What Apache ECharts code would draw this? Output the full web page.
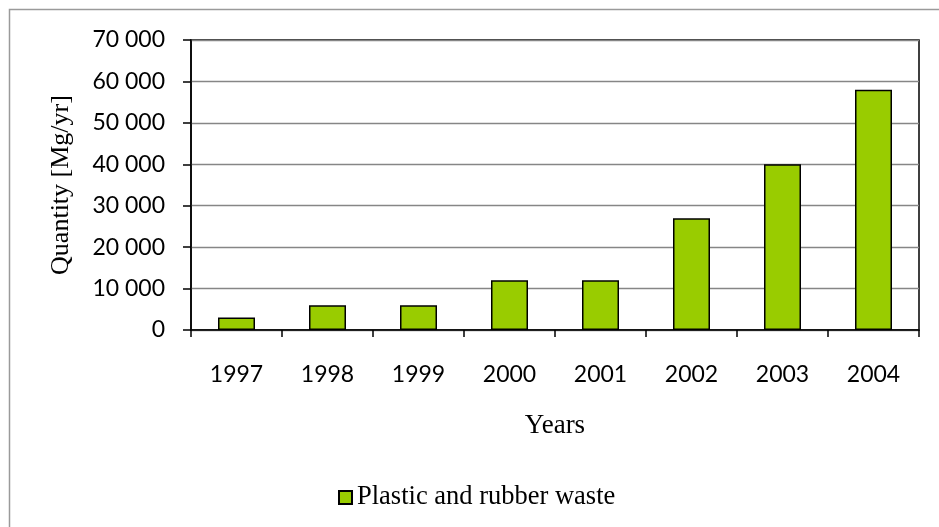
<!DOCTYPE html>
<html>
<head>
<meta charset="utf-8">
<title>Plastic and rubber waste</title>
<script src="https://cdn.jsdelivr.net/npm/echarts@6/dist/echarts.min.js"></script>
<style>
  html, body { margin: 0; padding: 0; background: #ffffff; }
  #chart { width: 939px; height: 527px; }
</style>
</head>
<body>
<div id="chart"></div>
<script>
// Yearly quantities of plastic and rubber waste
const years = ['1997', '1998', '1999', '2000', '2001', '2002', '2003', '2004'];
const quantities = [3000, 6000, 6000, 12000, 12000, 27000, 40000, 58000];
const seriesName = 'Plastic and rubber waste';
const yMin = 0;
const yMax = 70000;
const yStep = 10000;

const sansFont = 'Lato, "Open Sans", sans-serif';
const serifFont = '"Liberation Serif", "DejaVu Serif", serif';

// "70000" -> "70 000"
function spaced(v) {
  return String(v).replace(/\B(?=(\d{3})+(?!\d))/g, ' ');
}

const chart = echarts.init(document.getElementById('chart'), null, { renderer: 'canvas' });

chart.setOption({
  backgroundColor: '#ffffff',
  animation: false,
  graphic: [{
    type: 'rect',
    shape: { x: 9.5, y: 9.5, width: 960, height: 560 },
    style: { fill: 'none', stroke: '#9a9a9a', lineWidth: 1.5 },
    silent: true,
    z: -10
  }],
  grid: {
    left: 191, right: 20, top: 40, bottom: 197,
    show: true,
    borderColor: '#000000',
    borderWidth: 1.5,
    backgroundColor: 'transparent'
  },
  legend: {
    data: [seriesName],
    left: 333,
    top: 479,
    itemWidth: 13,
    itemHeight: 13,
    itemGap: 5,
    icon: 'rect',
    textStyle: { fontFamily: serifFont, fontSize: 26.5, color: '#000000' }
  },
  xAxis: {
    type: 'category',
    data: years,
    name: 'Years',
    nameLocation: 'middle',
    nameGap: 82,
    nameTextStyle: { fontFamily: serifFont, fontSize: 27, color: '#000000' },
    axisLine: { show: true, lineStyle: { color: '#000000', width: 1.5 } },
    axisTick: { show: true, length: 7, interval: 0, lineStyle: { color: '#000000', width: 1.5 } },
    axisLabel: { interval: 0, margin: 33, fontFamily: sansFont, fontSize: 23, color: '#000000' },
    splitLine: { show: false }
  },
  yAxis: {
    type: 'value',
    min: yMin,
    max: yMax,
    interval: yStep,
    name: 'Quantity [Mg/yr]',
    nameLocation: 'middle',
    nameGap: 117,
    nameTextStyle: { fontFamily: serifFont, fontSize: 26, color: '#000000' },
    axisLine: { show: true, lineStyle: { color: '#000000', width: 1.5 } },
    axisTick: { show: true, inside: false, length: 8, lineStyle: { color: '#000000', width: 1.5 } },
    axisLabel: { margin: 26, fontFamily: sansFont, fontSize: 23, color: '#000000', formatter: spaced },
    splitLine: { show: true, lineStyle: { color: '#868686', width: 1.3 } }
  },
  series: [{
    name: seriesName,
    type: 'bar',
    data: quantities,
    barWidth: 37,
    itemStyle: { color: '#99cc00', borderColor: '#000000', borderWidth: 1.5 },
    emphasis: { disabled: true }
  }]
});
</script>
</body>
</html>
